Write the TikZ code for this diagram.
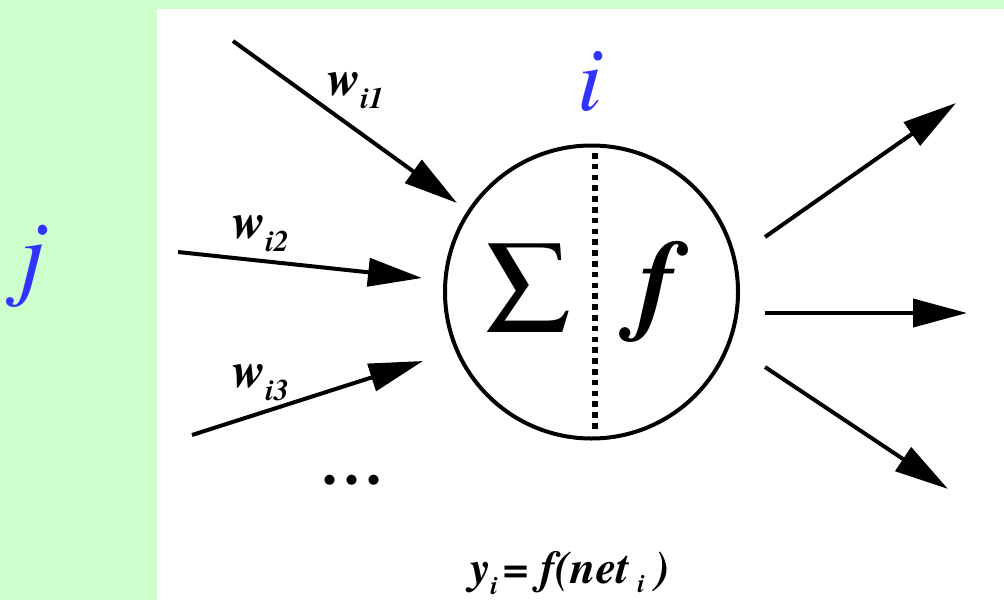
\documentclass[tikz,border=0pt]{standalone}
\usepackage{fontspec}
\IfFontExistsTF{texgyretermes-regular.otf}{%
  \setmainfont{texgyretermes}[Extension=.otf, UprightFont=*-regular, BoldFont=*-bold, ItalicFont=*-italic, BoldItalicFont=*-bolditalic]}{}
\usetikzlibrary{arrows.meta}
\definecolor{bggreen}{HTML}{CCFFCC}
\definecolor{lblue}{HTML}{3333FF}
\newcommand{\fs}[1]{\fontsize{#1}{#1}\selectfont}
\newcommand{\wlab}[1]{{\fs{50}w}\raisebox{-13pt}{\fs{30}i#1}}
\begin{document}
\begin{tikzpicture}[x=1pt,y=-1pt,
  conn/.style={line width=4pt, -{Triangle[length=54pt,width=28pt]}},
  lbl/.style={inner sep=0pt, anchor=base west, font=\bfseries\itshape}]
\useasboundingbox (0,0) rectangle (1004,600);
\fill[bggreen] (0,0) rectangle (1004,600);
\fill[white] (157,9) rectangle (1004,600);
% letters
\node[inner sep=0pt, anchor=base west, text=lblue, font=\itshape\fs{97}] (j) at (18,287) {j};
\node[inner sep=0pt, anchor=base west, text=lblue, font=\itshape\fs{92}] (i) at (577,110) {i};
% neuron
\node[circle, draw, line width=4pt, minimum size=293pt, inner sep=0pt] (neuron) at (591.5,292) {};
\coordinate (dtop) at (595,153);
\coordinate (dbot) at (595,432);
\draw[line width=5.5pt, dash pattern=on 5.5pt off 5.3pt] (dtop) -- (dbot);
\node[inner sep=0pt, anchor=base west, font=\fs{134}] (sigma) at (484,332) {Σ};
\node[lbl, font=\bfseries\itshape\fs{112}] (f) at (638,319) {f};
% input arrows
\coordinate (s1) at (233,41);  \coordinate (t1) at (457,203);
\coordinate (s2) at (178,252); \coordinate (t2) at (422,278);
\coordinate (s3) at (192,435); \coordinate (t3) at (423,361);
\draw[conn] (s1) -- (t1);
\draw[conn] (s2) -- (t2);
\draw[conn] (s3) -- (t3);
% output arrows
\coordinate (o1) at (765,237); \coordinate (p1) at (956,103);
\coordinate (o2) at (765,313); \coordinate (p2) at (967,313);
\coordinate (o3) at (765,367); \coordinate (p3) at (948,489);
\draw[conn] (o1) -- (p1);
\draw[conn] (o2) -- (p2);
\draw[conn] (o3) -- (p3);
% weights
\node[lbl] (w1) at (327,95) {\wlab{1}};
\node[lbl] (w2) at (232,238) {\wlab{2}};
\node[lbl] (w3) at (232,387) {\wlab{3}};
% dots
\node[inner sep=0pt, anchor=base west, font=\bfseries\fs{60}] (dots) at (322,484) {.\hspace{7pt}.\hspace{7pt}.};
% formula
\node[lbl, font=\bfseries\itshape\fs{46}] (eq) at (470,583) {y\raisebox{-11pt}{\fs{26}i}\hspace{6pt}=\hspace{10pt}f(net\hspace{8pt}\raisebox{-9pt}{\fs{26}i}\hspace{10pt})};
\end{tikzpicture}
\end{document}
